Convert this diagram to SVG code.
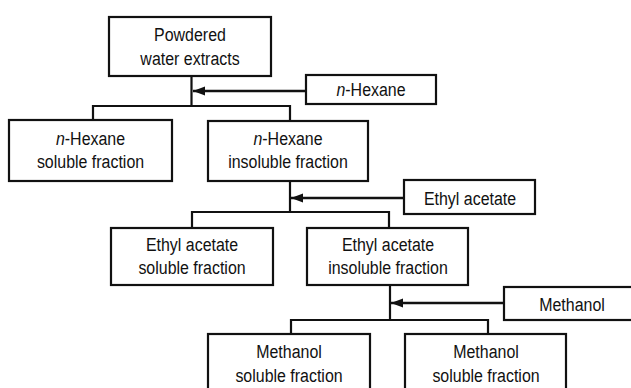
<svg xmlns="http://www.w3.org/2000/svg" width="631" height="388" viewBox="0 0 631 388">
<style>
.box{fill:#fff;stroke:#111;stroke-width:2.2}
.ln{fill:none;stroke:#111;stroke-width:2.2}
.ar{fill:none;stroke:#111;stroke-width:2.6}
text{font-family:"Liberation Sans",Arial,sans-serif;font-size:19px;fill:#111;text-anchor:middle}
.i{font-style:italic}
</style>
<defs>
<marker id="ah" markerUnits="userSpaceOnUse" markerWidth="13" markerHeight="10" refX="12" refY="5" orient="auto">
<path d="M0,0.5 L12,5 L0,9.5 z" fill="#111"/>
</marker>
</defs>
<rect width="631" height="388" fill="#fff"/>
<g id="connectors">
<path class="ln" d="M191.5,76 V106 M93,106 H290 M93,105 V120 M290,105 V121"/>
<path class="ar" d="M306,91 H193" marker-end="url(#ah)"/>
<path class="ln" d="M290,181 V212 M192,212 H389 M192,211 V228 M389,211 V228"/>
<path class="ar" d="M404,198 H291" marker-end="url(#ah)"/>
<path class="ln" d="M390,285 V320 M291,320 H488 M291,319 V334 M488,319 V334"/>
<path class="ar" d="M504,303 H391" marker-end="url(#ah)"/>
</g>
<g id="powdered">
<rect class="box" x="109" y="17" width="162" height="59"/>
<text transform="translate(190,41) scale(0.84,1)">Powdered</text>
<text transform="translate(190,65) scale(0.84,1)">water extracts</text>
</g>
<g id="hexane-solvent">
<rect class="box" x="306" y="75" width="130" height="29"/>
<text transform="translate(371,96) scale(0.84,1)"><tspan class="i">n</tspan>-Hexane</text>
</g>
<g id="hexane-soluble">
<rect class="box" x="9" y="120" width="163" height="61"/>
<text transform="translate(90.5,145) scale(0.84,1)"><tspan class="i">n</tspan>-Hexane</text>
<text transform="translate(90.5,168) scale(0.84,1)">soluble fraction</text>
</g>
<g id="hexane-insoluble">
<rect class="box" x="208" y="121" width="160" height="60"/>
<text transform="translate(288,145) scale(0.84,1)"><tspan class="i">n</tspan>-Hexane</text>
<text transform="translate(288,168) scale(0.84,1)">insoluble fraction</text>
</g>
<g id="ethyl-solvent">
<rect class="box" x="404" y="180" width="131" height="34"/>
<text transform="translate(470,205) scale(0.84,1)">Ethyl acetate</text>
</g>
<g id="ethyl-soluble">
<rect class="box" x="111" y="228" width="162" height="57"/>
<text transform="translate(192,251) scale(0.84,1)">Ethyl acetate</text>
<text transform="translate(192,274) scale(0.84,1)">soluble fraction</text>
</g>
<g id="ethyl-insoluble">
<rect class="box" x="307" y="228" width="161" height="57"/>
<text transform="translate(388,251) scale(0.84,1)">Ethyl acetate</text>
<text transform="translate(388,274) scale(0.84,1)">insoluble fraction</text>
</g>
<g id="methanol-solvent">
<rect class="box" x="504" y="287" width="140" height="33"/>
<text transform="translate(572,311) scale(0.84,1)">Methanol</text>
</g>
<g id="methanol-soluble-1">
<rect class="box" x="208" y="334" width="162" height="62"/>
<text transform="translate(289,358) scale(0.84,1)">Methanol</text>
<text transform="translate(289,382) scale(0.84,1)">soluble fraction</text>
</g>
<g id="methanol-soluble-2">
<rect class="box" x="405" y="334" width="161" height="62"/>
<text transform="translate(486,358) scale(0.84,1)">Methanol</text>
<text transform="translate(486,382) scale(0.84,1)">soluble fraction</text>
</g>
</svg>
